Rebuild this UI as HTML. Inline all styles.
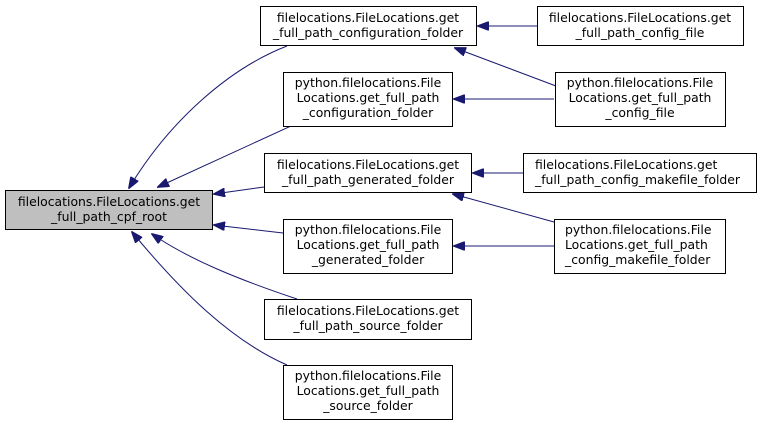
<!DOCTYPE html>
<html><head><meta charset="utf-8"><style>
html,body{margin:0;padding:0;background:#fff;}
svg{display:block;}
text{font-family:"DejaVu Sans","Liberation Sans",sans-serif;font-size:12.4px;fill:#000;}
</style></head><body>
<svg width="761" height="426" viewBox="0 0 761 426" xmlns="http://www.w3.org/2000/svg">
<defs>
<marker id="a" markerWidth="12" markerHeight="9" refX="11" refY="4.5" orient="auto" markerUnits="userSpaceOnUse">
<path d="M0,0 L12,4.5 L0,9 Z" fill="#191970" stroke="#191970"/>
</marker>
</defs>
<g stroke="#191970" stroke-width="1" fill="none" marker-end="url(#a)">
<path d="M287,46 C230,68 170,120 129,188"/>
<path d="M291,126 L158,187"/>
<path d="M264,187 L214,194"/>
<path d="M283,233 L214,225"/>
<path d="M297,299 C240,280 190,260 152,234"/>
<path d="M287,365 C230,340 180,290 132,232"/>
<path d="M537,26 L478,26"/>
<path d="M556,86 L455,48"/>
<path d="M554,99 L454,99"/>
<path d="M523,173 L473,173"/>
<path d="M554,222 L453,194"/>
<path d="M554,246 L454,246"/>
</g>
<g stroke="#000" stroke-width="1">
<rect x="5.5" y="190.5" width="207" height="39" fill="#bfbfbf"/>
<rect x="260.5" y="6.5" width="216" height="39" fill="#fff"/>
<rect x="283.5" y="72.5" width="169" height="54" fill="#fff"/>
<rect x="264.5" y="153.5" width="207" height="39" fill="#fff"/>
<rect x="283.5" y="219.5" width="169" height="54" fill="#fff"/>
<rect x="264.5" y="299.5" width="207" height="40" fill="#fff"/>
<rect x="283.5" y="365.5" width="169" height="54" fill="#fff"/>
<rect x="537.5" y="6.5" width="206" height="39" fill="#fff"/>
<rect x="555.5" y="72.5" width="170" height="54" fill="#fff"/>
<rect x="523.5" y="153.5" width="233" height="39" fill="#fff"/>
<rect x="554.5" y="219.5" width="171" height="54" fill="#fff"/>
</g>
<g text-anchor="middle">
<text x="109" y="206">filelocations.FileLocations.get</text>
<text x="109" y="221">_full_path_cpf_root</text>
<text x="368" y="22">filelocations.FileLocations.get</text>
<text x="368" y="37">_full_path_configuration_folder</text>
<text x="368" y="87">python.filelocations.File</text>
<text x="368" y="102">Locations.get_full_path</text>
<text x="368" y="117">_configuration_folder</text>
<text x="368" y="169">filelocations.FileLocations.get</text>
<text x="368" y="184">_full_path_generated_folder</text>
<text x="368" y="234">python.filelocations.File</text>
<text x="368" y="249">Locations.get_full_path</text>
<text x="368" y="264">_generated_folder</text>
<text x="368" y="315">filelocations.FileLocations.get</text>
<text x="368" y="330">_full_path_source_folder</text>
<text x="368" y="380">python.filelocations.File</text>
<text x="368" y="395">Locations.get_full_path</text>
<text x="368" y="410">_source_folder</text>
<text x="640" y="22">filelocations.FileLocations.get</text>
<text x="640" y="37">_full_path_config_file</text>
<text x="640" y="87">python.filelocations.File</text>
<text x="640" y="102">Locations.get_full_path</text>
<text x="640" y="117">_config_file</text>
</g>
<text x="535" y="169">filelocations.FileLocations.get</text>
<text x="535" y="184">_full_path_config_makefile_folder</text>
<text x="565" y="234">python.filelocations.File</text>
<text x="565" y="249">Locations.get_full_path</text>
<text x="565" y="264">_config_makefile_folder</text>
</svg>
</body></html>
